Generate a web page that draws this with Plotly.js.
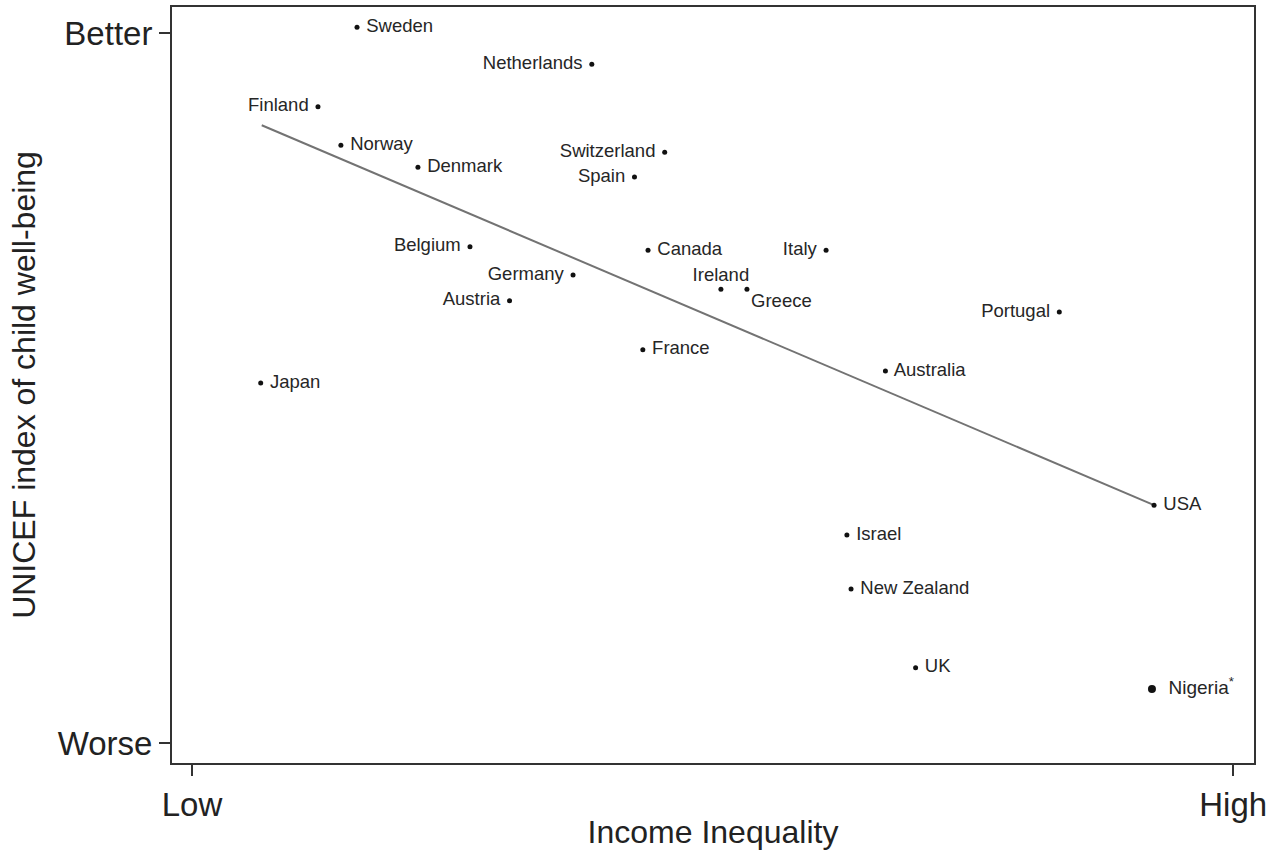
<!DOCTYPE html>
<html>
<head>
<meta charset="utf-8">
<script src="https://cdn.plot.ly/plotly-3.0.1.min.js"></script>
<style>html,body{margin:0;padding:0;background:#fff;}#chart{width:1270px;height:850px;}</style>
</head>
<body>
<div id="chart"></div>
<script>
// Countries (x: income inequality 0=Low..100=High, y: child well-being 0=Worse..100=Better)
const countries = ["Sweden","Netherlands","Finland","Norway","Denmark","Switzerland","Spain","Belgium","Canada","Italy","Germany","Ireland","Greece","Austria","Portugal","France","Japan","Australia","USA","Israel","New Zealand","UK"];
const inequality = [15.85,38.4,12.1,14.3,21.7,45.4,42.5,26.7,43.8,60.9,36.6,50.8,53.3,30.5,83.3,43.3,6.6,66.6,92.4,62.9,63.3,69.5];
const wellbeing = [100.8,95.6,89.6,84.2,81.1,83.2,79.7,69.9,69.4,69.4,65.9,63.9,63.9,62.3,60.7,55.4,50.7,52.4,33.5,29.3,21.7,10.6];
const labelPos = ["middle right","middle left","middle left","middle right","middle right","middle left","middle left","middle left","middle right","middle left","middle left","top center","bottom right","middle left","middle left","middle right","middle right","middle right","middle right","middle right","middle right","middle right"];

const nigeriaX = [92.2];
const nigeriaY = [7.6];
const nigeriaLabel = ["Nigeria"];

// Fitted trend line endpoints
const trendX = [6.7, 92.4];
const trendY = [87.0, 33.5];

const xTickVals = [0, 100];
const xTickText = ["Low", "High"];
const yTickVals = [0, 100];
const yTickText = ["Worse", "Better"];

const font = "Liberation Sans, Arial, sans-serif";

// pad labels away from the dots, on the side where they sit
const padded = countries.map((c, i) => {
  const p = labelPos[i];
  if (p.endsWith("right") && p.startsWith("middle")) return " " + c;
  if (p.endsWith("left")) return c + " ";
  return c;
});

const traces = [
  {x: trendX, y: trendY, mode: "lines", line: {color: "#737373", width: 2}, hoverinfo: "skip"},
  {x: inequality, y: wellbeing, mode: "markers+text", text: padded, textposition: labelPos,
   marker: {color: "#111", size: 5}, textfont: {family: font, size: 18.5, color: "#262626"}},
  {x: nigeriaX, y: nigeriaY, mode: "markers+text",
   text: nigeriaLabel.map(t => "  " + t + "<sup>*</sup>"), textposition: "middle right",
   marker: {color: "#111", size: 8}, textfont: {family: font, size: 19, color: "#262626"}}
];

const layout = {
  width: 1270, height: 850,
  margin: {l: 172, r: 16, t: 7, b: 87},
  showlegend: false,
  paper_bgcolor: "#fff", plot_bgcolor: "#fff",
  xaxis: {
    range: [-1.92, 102.0], tickvals: xTickVals, ticktext: xTickText,
    showgrid: false, zeroline: false, showline: true, mirror: true,
    linecolor: "#333", linewidth: 2, ticks: "outside", ticklen: 11, tickcolor: "#333", tickwidth: 1.5,
    tickfont: {family: font, size: 33, color: "#222"},
    title: {text: "Income Inequality", font: {family: font, size: 32, color: "#222"}, standoff: 6}
  },
  yaxis: {
    range: [-2.82, 103.66], tickvals: yTickVals, ticktext: yTickText,
    showgrid: false, zeroline: false, showline: true, mirror: true,
    linecolor: "#333", linewidth: 2, ticks: "outside", ticklen: 11, tickcolor: "#333", tickwidth: 1.5,
    tickfont: {family: font, size: 33, color: "#222"},
    title: {text: "UNICEF index of child well-being", font: {family: font, size: 32, color: "#222"}, standoff: 12}
  }
};

Plotly.newPlot("chart", traces, layout, {displayModeBar: false, staticPlot: true});
</script>
</body>
</html>
